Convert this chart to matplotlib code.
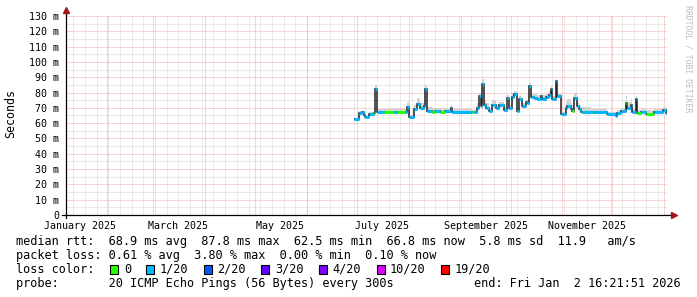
import datetime

import matplotlib
matplotlib.use('Agg')
import matplotlib.pyplot as plt
import matplotlib.dates as mdates
import matplotlib.patches as patches
import numpy as np

# smokeping median rtt, one step per segment, starting 2025-06-29
data_start = np.datetime64('2025-06-29')
seg_days = [3, 2, 1, 1, 2, 3, 1, 1, 4, 6, 2, 5, 1, 1, 3, 2, 2, 2, 1, 1,
            3, 2, 3, 3, 3, 1, 12, 1, 2, 1, 1, 1, 1, 1, 2, 2, 2, 2, 3, 2,
            1, 2, 1, 2, 1, 2, 2, 1, 1, 1, 2, 2, 2, 1, 2, 2, 1, 1, 2, 1,
            2, 3, 1, 2, 1, 1, 2, 1, 1, 1, 5, 1, 9, 5, 1, 2, 3, 1, 2, 1,
            2, 1, 2, 3, 5, 5, 2, 1]
median_ms = [62.5, 66.7, 67.2, 65.5, 64.0, 66.0, 66.4, 82.6, 67.2, 67.0,
             67.3, 67.0, 67.2, 70.6, 64.0, 69.0, 72.6, 70.0, 71.0, 82.6,
             67.8, 67.6, 67.8, 67.5, 67.8, 70.0, 67.4, 67.4, 67.4, 70.0,
             77.6, 71.0, 85.6, 72.0, 70.0, 67.8, 72.0, 70.0, 71.7, 68.3,
             76.5, 70.0, 77.0, 79.0, 67.8, 76.0, 71.0, 74.0, 73.0, 84.0,
             77.0, 76.5, 76.0, 77.6, 76.0, 77.0, 78.7, 82.0, 76.0, 87.8,
             78.0, 66.0, 70.0, 71.0, 69.0, 67.8, 76.5, 71.0, 69.0, 67.4,
             67.4, 67.4, 67.0, 66.0, 64.6, 66.7, 67.8, 73.0, 70.0, 72.0,
             67.4, 76.0, 66.7, 67.4, 66.3, 67.4, 68.3, 66.8]
# lost pings out of 20 (smokeping loss colour bucket)
loss_pings = [1, 1, 1, 1, 1, 1, 0, 1, 1, 0, 1, 0, 1, 1, 1, 1, 1, 1, 1, 1,
              1, 0, 1, 0, 1, 1, 1, 0, 1, 1, 1, 1, 1, 1, 1, 1, 1, 1, 1, 1,
              1, 1, 1, 1, 1, 1, 1, 1, 1, 1, 1, 1, 1, 1, 1, 1, 1, 1, 1, 1,
              1, 1, 1, 1, 1, 0, 1, 1, 1, 0, 1, 0, 1, 1, 1, 1, 1, 0, 1, 1,
              1, 1, 0, 1, 0, 1, 1, 1]
# spread of the smoke above the median, ms
smoke_ms = [1, 1.5, 1, 1, 1, 1, 1, 2, 2, 2, 2.5, 2, 2, 3, 1.5, 3, 4, 3, 3, 2,
            3, 2, 2, 2, 2, 2, 2, 1.5, 1.5, 3, 2, 3, 3, 3, 3, 2, 3, 2, 2, 2,
            2, 2, 2, 2, 2, 2, 2, 2, 2, 2, 2, 2.5, 2.5, 2, 2.5, 2, 2, 2, 2, 1,
            2, 1.5, 4, 5, 4, 4, 3, 3, 3, 3, 3, 2, 2, 1.5, 1.5, 2, 2, 5, 4, 4,
            2, 2, 2, 2, 2, 2, 2, 1.5]

loss_labels = ['0', '1/20', '2/20', '3/20', '4/20', '10/20', '19/20']
loss_values = [0, 1, 2, 3, 4, 10, 19]
loss_colors = ['#26ff00', '#00b8ff', '#0059ff', '#5e00ff', '#7e00ff',
               '#dd00ff', '#ff0000']

end_time = datetime.datetime(2026, 1, 2, 16, 21, 51)
span_days = 360

W, H = 697, 297
MONO = 'DejaVu Sans Mono'
plt.rcParams['font.family'] = MONO

fig = plt.figure(figsize=(W / 100, H / 100), dpi=100)
ax = fig.add_axes([66 / W, 82 / H, 601 / W, 199 / H])

t0 = end_time - datetime.timedelta(days=span_days)
ax.set_xlim(mdates.date2num(t0), mdates.date2num(end_time))
ax.set_ylim(0, 130)

# grid: weekly / monthly verticals, 5 / 10 ms horizontals, dotted
dots = (0, (1, 1))
sundays = mdates.WeekdayLocator(byweekday=mdates.SU).tick_values(t0, end_time)
months = mdates.MonthLocator().tick_values(t0, end_time)
grid_kw = dict(linestyles=dots, lw=0.72)
ax.vlines(sundays, 0, 130, colors='#d6d6d6', zorder=0, **grid_kw)
ax.hlines(np.arange(5, 130, 10), *ax.get_xlim(), colors='#d6d6d6', zorder=0,
          **grid_kw)
ax.vlines(months, 0, 130, colors='#eeaaaa', zorder=0.5, **grid_kw)
ax.hlines(np.arange(10, 131, 10), *ax.get_xlim(), colors='#eeaaaa', zorder=0.5,
          **grid_kw)

# median rtt with smoke
edges = data_start + np.concatenate([[0], np.cumsum(seg_days)]).astype('timedelta64[D]')
edges = mdates.date2num(edges)
med = np.array(median_ms)
ax.stairs(med + np.array(smoke_ms), edges, baseline=med - 0.8, fill=True,
          color='#d2d2d2', zorder=1)
ax.stairs(med, edges, baseline=None, color='#202020', lw=1.1, zorder=2)
cmap = dict(zip(loss_values, loss_colors))
ax.hlines(med, edges[:-1], edges[1:], colors=[cmap[l] for l in loss_pings],
          lw=2.2, zorder=3)

# y axis labels
yt = np.arange(0, 131, 10)
ax.set_yticks(yt)
ax.set_yticklabels(['0' if v == 0 else f'{v} m' for v in yt])
ax.tick_params(axis='y', length=0, pad=5, labelsize=7.2)

# x labels centred half a month after each second month start
lab_dates = [datetime.datetime(2025, m, 16) for m in range(1, 12, 2)]
ax.set_xticks(mdates.date2num(lab_dates))
ax.set_xticklabels([d.strftime('%B %Y') for d in lab_dates])
ax.tick_params(axis='x', length=0, pad=4.5, labelsize=7.2)

for s in ax.spines.values():
    s.set_visible(False)
ax.plot([0, 0], [-3 / 199, 206 / 199], transform=ax.transAxes, color='black',
        lw=0.9, clip_on=False, zorder=5)
ax.plot([-4 / 601, 1 + 4 / 601], [0, 0], transform=ax.transAxes, color='black',
        lw=0.9, clip_on=False, zorder=5)
ax.plot(0, 1 + 6 / 199, marker='^', ms=4, color='#a01818', transform=ax.transAxes,
        clip_on=False, zorder=6)
ax.plot(1 + 7 / 601, 0, marker='>', ms=4, color='#a01818', transform=ax.transAxes,
        clip_on=False, zorder=6)

fig.text(11 / W, 1 - 114 / H, 'Seconds', rotation=90, ha='center', va='center',
         fontsize=8.4)
fig.text(688 / W, 1 - 5 / H, 'RRDTOOL / TOBI OETIKER', rotation=270, ha='center',
         va='top', fontsize=5.9, color='#bdbdbd')

# legend rows
fs = 8.6
cw = 0.602 * fs * 100 / 72
x0 = 16
rows_y = [241.7, 255.2, 269.3, 283.3]
fig.text(x0 / W, 1 - rows_y[0] / H,
         'median rtt:  68.9 ms avg  87.8 ms max  62.5 ms min  66.8 ms now  5.8 ms sd  11.9   am/s',
         fontsize=fs, va='center')
fig.text(x0 / W, 1 - rows_y[1] / H,
         'packet loss: 0.61 % avg  3.80 % max  0.00 % min  0.10 % now',
         fontsize=fs, va='center')
fig.text(x0 / W, 1 - rows_y[2] / H, 'loss color:', fontsize=fs, va='center')
col = 13
for lab, c in zip(loss_labels, loss_colors):
    bx = x0 + col * cw + 1
    fig.add_artist(patches.Rectangle((bx / W, (H - rows_y[2] - 4.5) / H), 8 / W, 9 / H,
                                     transform=fig.transFigure, facecolor=c,
                                     edgecolor='black', lw=0.8))
    fig.text((x0 + (col + 2) * cw) / W, 1 - rows_y[2] / H, lab, fontsize=fs,
             va='center')
    col += 2 + len(lab) + 2
fig.text(x0 / W, 1 - rows_y[3] / H,
         'probe:       20 ICMP Echo Pings (56 Bytes) every 300s',
         fontsize=fs, va='center')
fig.text(681 / W, 1 - rows_y[3] / H, 'end: Fri Jan  2 16:21:51 2026',
         fontsize=fs, va='center', ha='right')

fig.savefig('out.png', dpi=100)
